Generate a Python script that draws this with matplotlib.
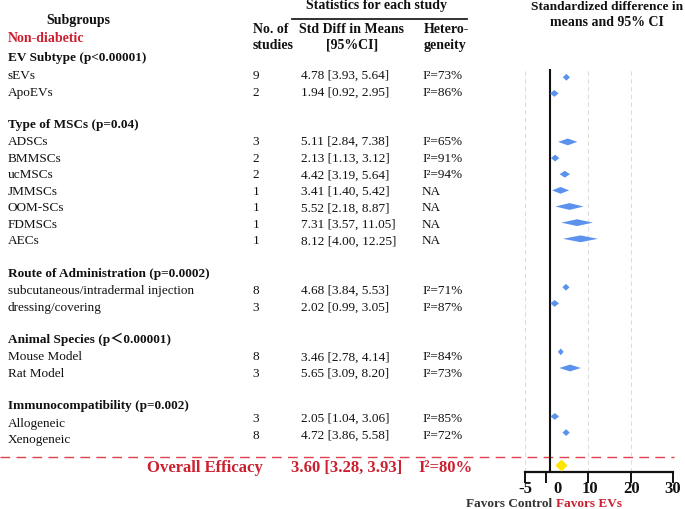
import matplotlib
matplotlib.use('Agg')
import matplotlib.pyplot as plt
from matplotlib.patches import Polygon

plt.rcParams['font.family'] = ['Liberation Serif', 'Noto Sans CJK SC', 'DejaVu Sans']

# ---------------- data ----------------
groups = ["EV Subtype (p<0.00001)", "Type of MSCs (p=0.04)",
          "Route of Administration (p=0.0002)", "Animal Species (p＜0.00001)",
          "Immunocompatibility (p=0.002)"]
group_sizes = [2, 7, 2, 2, 2]
subgroups = ["sEVs", "ApoEVs", "ADSCs", "BMMSCs", "ucMSCs", "JMMSCs", "OOM-SCs",
             "FDMSCs", "AECs", "subcutaneous/intradermal injection", "dressing/covering",
             "Mouse Model", "Rat Model", "Allogeneic", "Xenogeneic"]
n_studies = [9, 2, 3, 2, 2, 1, 1, 1, 1, 8, 3, 8, 3, 3, 8]
smd = [4.78, 1.94, 5.11, 2.13, 4.42, 3.41, 5.52, 7.31, 8.12, 4.68, 2.02, 3.46, 5.65, 2.05, 4.72]
ci_low = [3.93, 0.92, 2.84, 1.13, 3.19, 1.40, 2.18, 3.57, 4.00, 3.84, 0.99, 2.78, 3.09, 1.04, 3.86]
ci_high = [5.64, 2.95, 7.38, 3.12, 5.64, 5.42, 8.87, 11.05, 12.25, 5.53, 3.05, 4.14, 8.20, 3.06, 5.58]
heterogeneity = ["I²=73%", "I²=86%", "I²=65%", "I²=91%", "I²=94%", "NA", "NA", "NA", "NA",
                 "I²=71%", "I²=87%", "I²=84%", "I²=73%", "I²=85%", "I²=72%"]
overall_smd, overall_low, overall_high = 3.60, 3.28, 3.93
overall_het = "I²=80%"
x_ticks = [-5, 0, 10, 20, 30]
x_tick_labels = ["-5", "0", "10", "20", "30"]

# ---------------- layout ----------------
W, H = 685, 509
fig = plt.figure(figsize=(W / 100, H / 100), dpi=100)
fig.patch.set_facecolor('white')

RED = '#CC1F2F'
BLUE = '#5A92EE'
BLACK = '#111111'

# rows
item_rows, header_rows, group_of_item = [], [], []
r = 0
for gi, size in enumerate(group_sizes):
    header_rows.append(r - 1)
    for k in range(size):
        item_rows.append(r + k)
        group_of_item.append(gi)
    r += size + 2
overall_row = item_rows[-1] + 2

def text_pix(row):
    return 76.0 + 16.55 * row

# overlay axes in pixel coords for table text
ov = fig.add_axes([0, 0, 1, 1])
ov.set_xlim(0, W)
ov.set_ylim(H, 0)
ov.axis('off')

FS = 9.5
# headers
ov.text(78, 20, "Subgroups", ha='center', va='center', fontsize=10, fontweight='bold', color=BLACK)
ov.text(8, 38, "Non-diabetic", ha='left', va='center', fontsize=10, fontweight='bold', color=RED)
ov.text(377, 5, "Statistics for each study", ha='center', va='center', fontsize=10, fontweight='bold', color=BLACK)
ov.plot([292, 467], [18.5, 18.5], color='#222222', lw=1.3)
ov.text(253, 29, "No. of", ha='left', va='center', fontsize=10, fontweight='bold', color=BLACK)
ov.text(253, 45, "studies", ha='left', va='center', fontsize=10, fontweight='bold', color=BLACK)
ov.text(352, 29, "Std Diff in Means", ha='center', va='center', fontsize=10, fontweight='bold', color=BLACK)
ov.text(352, 45, "[95%CI]", ha='center', va='center', fontsize=10, fontweight='bold', color=BLACK)
ov.text(424, 29, "Hetero-", ha='left', va='center', fontsize=10, fontweight='bold', color=BLACK)
ov.text(424, 45, "geneity", ha='left', va='center', fontsize=10, fontweight='bold', color=BLACK)
ov.text(531, 7, "Standardized difference in", ha='left', va='center', fontsize=9.6, fontweight='bold', color=BLACK)
ov.text(607, 22, "means and 95% CI", ha='center', va='center', fontsize=10, fontweight='bold', color=BLACK)

for g, hr in zip(groups, header_rows):
    ov.text(8, text_pix(hr) - 1, g, ha='left', va='center', fontsize=FS, fontweight='bold', color=BLACK)

for i, row in enumerate(item_rows):
    y = text_pix(row)
    ys = y - (4.5 if group_of_item[i] == len(groups) - 1 else 0)
    ov.text(8, y, subgroups[i], ha='left', va='center', fontsize=FS, color=BLACK)
    ov.text(256, ys, str(n_studies[i]), ha='center', va='center', fontsize=FS, color=BLACK)
    ov.text(301, ys, f"{smd[i]:.2f} [{ci_low[i]:.2f}, {ci_high[i]:.2f}]", ha='left', va='center',
            fontsize=FS, color=BLACK)
    ov.text(422, ys, heterogeneity[i], ha='left', va='center', fontsize=FS, color=BLACK)

# overall
oy = 468
ov.plot([0, 674], [456.7, 456.7], color='#E0404C', lw=1.0, dashes=(7, 4.5))
ov.text(205, oy, "Overall Efficacy", ha='center', va='center', fontsize=12, fontweight='bold', color=RED)
ov.text(347, oy, f"{overall_smd:.2f} [{overall_low:.2f}, {overall_high:.2f}]", ha='center', va='center',
        fontsize=12, fontweight='bold', color=RED)
ov.text(418, oy, overall_het, ha='left', va='center', fontsize=12, fontweight='bold', color=RED)

# bottom labels
ov.text(552, 504, "Favors Control", ha='right', va='center', fontsize=9.5, fontweight='bold', color='#333333')
ov.text(556, 504, "Favors EVs", ha='left', va='center', fontsize=9.5, fontweight='bold', color=RED)

# ---------------- forest axes ----------------
top_pix, bot_pix = 68.7, 472.3
left_pix, right_pix = 525, 673
ax = fig.add_axes([left_pix / W, 1 - bot_pix / H, (right_pix - left_pix) / W, (bot_pix - top_pix) / H])
ax.patch.set_alpha(0)
ax.set_xlim(x_ticks[0], x_ticks[-1])
r_top = (top_pix - 77.3) / 16.15
r_bot = (bot_pix - 77.3) / 16.15
ax.set_ylim(r_bot, r_top)

for s in ['top', 'right', 'left']:
    ax.spines[s].set_visible(False)
ax.spines['bottom'].set_linewidth(1.6)
ax.spines['bottom'].set_color(BLACK)
ax.set_yticks([])
ax.set_xticks(x_ticks)
ax.set_xticklabels([''] * len(x_ticks))
ax.tick_params(axis='x', direction='out', length=8, width=1.4, color=BLACK)

# grid
for xv in [x for x in x_ticks if x != 0]:
    ax.axvline(xv, color='#DDDDDD', lw=0.8, dashes=(4, 3), zorder=0)
# line of no effect
ax.axvline(1, color=BLACK, lw=1.5, zorder=2)

hh = 0.21
for i, row in enumerate(item_rows):
    yy = row
    poly = Polygon([[ci_low[i], yy], [smd[i], yy - hh], [ci_high[i], yy], [smd[i], yy + hh]],
                   closed=True, facecolor=BLUE, edgecolor='none', zorder=3)
    ax.add_patch(poly)

ax.plot([overall_smd], [overall_row], marker='D', ms=6.5, color='#FFE500', mec='none',
        clip_on=False, zorder=4)

# tick labels (0 label sits slightly right of its tick in the original)
label_pos = [-5, 2.8, 10.4, 20.3, 30]
for xv, lab in zip(label_pos, x_tick_labels):
    ax.text(xv, 1.0 - (489 - top_pix) / (bot_pix - top_pix), lab,
            transform=ax.get_xaxis_transform(), ha='center', va='center',
            fontsize=12, fontweight='bold', color=BLACK, clip_on=False)

fig.savefig('out.png', dpi=100)
